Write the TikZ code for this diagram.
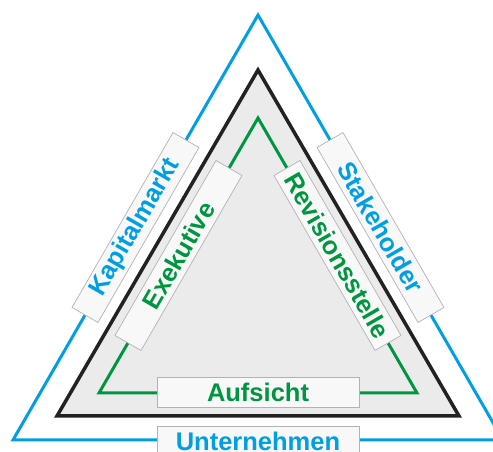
\documentclass[tikz,border=0pt]{standalone}
\usepackage{fontspec}
\setmainfont{Liberation Sans}
\usetikzlibrary{calc}
\definecolor{outerblue}{HTML}{009FE3}
\definecolor{innergreen}{HTML}{009640}
\definecolor{frameblack}{HTML}{222222}
\definecolor{corefill}{HTML}{EBEBEB}
\definecolor{tagfill}{HTML}{F8F8F8}

\begin{document}
\begin{tikzpicture}[x=1pt,y=1pt,font=\bfseries\fontsize{25.5}{30}\selectfont,
  tag/.style={draw=black!30,fill=tagfill,line width=0.7pt,minimum width=202pt,minimum height=30pt,inner sep=0pt}]
\useasboundingbox (0,0) rectangle (493,452);
\clip (0,0) rectangle (493,452);
% corners of the three triangles
\coordinate (bt) at (258,437); \coordinate (bl) at (13,12); \coordinate (br) at (503,12);
\coordinate (kt) at (258,382); \coordinate (kl) at (57,36); \coordinate (kr) at (459,36);
\coordinate (gt) at (258,334); \coordinate (gl) at (99,59); \coordinate (gr) at (417,59);
% triangles
\draw[outerblue,line width=3pt] (bt) -- (bl) -- (br) -- cycle;
\draw[frameblack,fill=corefill,line width=3.5pt] (kt) -- (kl) -- (kr) -- cycle;
\draw[innergreen,line width=3pt] (gt) -- (gl) -- (gr) -- cycle;
% outer labels
\node[tag,text=outerblue,rotate=60] (kapital) at ($(bl)!0.5!(bt)$) {Kapitalmarkt};
\node[tag,text=outerblue,rotate=-60] (stake) at ($(bt)!0.5!(br)$) {Stakeholder};
\node[tag,text=outerblue] (unternehmen) at ($(bl)!0.5!(br)+(0,-1)$) {Unternehmen};
% inner labels
\node[tag,text=innergreen,rotate=60] (exekutive) at ($(gl)!0.5!(gt)$) {Exekutive};
\node[tag,text=innergreen,rotate=-60] (revision) at ($(gt)!0.5!(gr)$) {Revisionsstelle};
\node[tag,text=innergreen] (aufsicht) at ($(gl)!0.5!(gr)+(0,1)$) {Aufsicht};
\end{tikzpicture}
\end{document}
